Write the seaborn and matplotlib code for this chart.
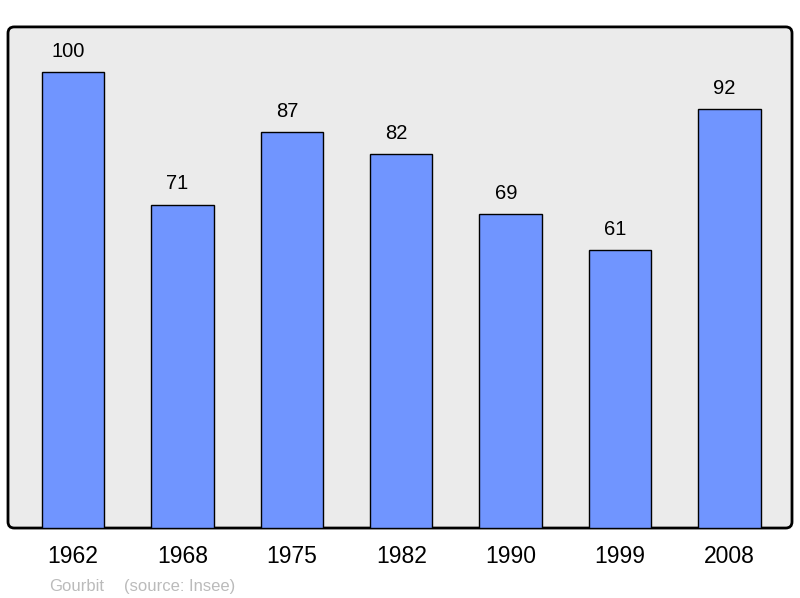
import pandas as pd
import matplotlib
matplotlib.use("Agg")
import matplotlib.pyplot as plt
import seaborn as sns
from matplotlib.patches import FancyBboxPatch

# data
years = ["1962", "1968", "1975", "1982", "1990", "1999", "2008"]
population = [100, 71, 87, 82, 69, 61, 92]
footer_left = "Gourbit"
footer_right = "(source: Insee)"

sns.set_style("white")
plt.rcParams["font.family"] = ["Liberation Sans", "DejaVu Sans"]
plt.rcParams["text.color"] = "black"
plt.rcParams["xtick.color"] = "black"

df = pd.DataFrame({"year": years, "pop": population})

fig = plt.figure(figsize=(8, 5.98), dpi=100)
ax = fig.add_axes([0.01, 0.117, 0.98, 0.838])
ax.patch.set_visible(False)

# rounded frame behind the bars
frame = FancyBboxPatch((0, 0), 1, 1, boxstyle="round,pad=0,rounding_size=0.008",
                       transform=ax.transAxes, facecolor="#ebebeb", edgecolor="black",
                       linewidth=2, zorder=0.2, clip_on=False, mutation_aspect=784 / 501)
ax.add_patch(frame)

sns.barplot(data=df, x="year", y="pop", color="#7095ff", saturation=1,
            edgecolor="black", linewidth=1, width=0.57, ax=ax, zorder=2)

for i, v in enumerate(population):
    ax.annotate(str(v), (i, v), xytext=(-3.5, 8), textcoords="offset points",
                ha="center", va="bottom", fontsize=14.5, color="black")

ax.set_xlim(-0.594, 6.571)
ax.set_ylim(0, 110)
ax.set_yticks([])
ax.set_xlabel("")
ax.set_ylabel("")
for s in ax.spines.values():
    s.set_visible(False)
ax.tick_params(axis="x", length=0, labelsize=16.5, pad=12, labelcolor="black")

fig.text(0.061, 0.012, footer_left, fontsize=12, color="#bbbbbb")
fig.text(0.155, 0.012, footer_right, fontsize=12, color="#bbbbbb")

fig.savefig("out.png", dpi=100)
